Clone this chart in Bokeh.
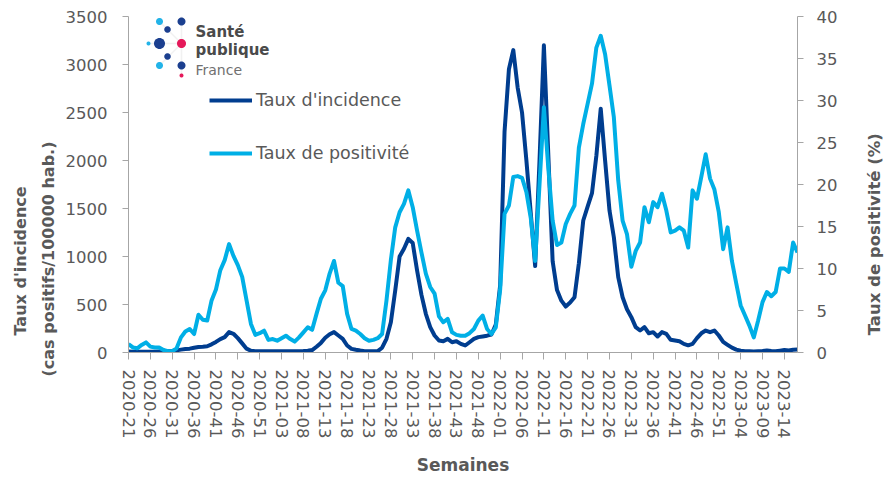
import numpy as np
from bokeh.plotting import figure
from bokeh.models import (Range1d, LinearAxis, SingleIntervalTicker, FixedTicker,
                          Legend, LegendItem, Label, PolyAnnotation, ColumnDataSource, Title)
from bokeh.embed import file_html
from bokeh.resources import INLINE

# ---------------- data ----------------
# ISO weeks 2020-21 .. 2023-17 (2020 has 53 weeks)
year_week_spans = [(2020, 21, 53), (2021, 1, 52), (2022, 1, 52), (2023, 1, 17)]
weeks = [f"{y}-{w:02d}" for (y, a, b) in year_week_spans for w in range(a, b + 1)]

# Taux d'incidence (cas positifs / 100000 hab.)
incidence = [
    10, 9, 8, 8, 8, 8, 9, 10, 11, 13,
    16, 22, 30, 36, 40, 50, 58, 60, 65, 85,
    110, 140, 160, 212, 195, 150, 95, 40, 18, 12,
    12, 12, 12, 13, 13, 12, 12, 12, 13, 14,
    15, 18, 25, 60, 100, 153, 190, 212, 177, 142,
    73, 38, 28, 20, 14, 12, 12, 14, 50, 142,
    316, 646, 1000, 1080, 1184, 1140, 854, 600, 403, 264,
    177, 125, 118, 142, 107, 118, 90, 73, 107, 142,
    160, 167, 175, 188, 290, 700, 2300, 2950, 3150, 2760,
    2500, 2000, 1450, 900, 2000, 3200, 2070, 950, 650, 540,
    479, 520, 576, 930, 1375, 1520, 1660, 2050, 2540, 2000,
    1480, 1200, 785, 576, 450, 368, 264, 229, 264, 201,
    212, 167, 212, 194, 132, 125, 118, 90, 75, 90,
    150, 200, 229, 212, 229, 177, 111, 80, 50, 30,
    18, 14, 12, 10, 12, 15, 20, 15, 12, 18,
    25, 20, 28, 30,
]

# Taux de positivité (%)
positivity = [
    1.0, 0.6, 0.5, 0.9, 1.2, 0.7, 0.6, 0.6, 0.3, 0.15,
    0.15, 0.5, 1.8, 2.5, 2.8, 2.2, 4.5, 3.9, 3.8, 6.2,
    7.5, 9.8, 11.0, 12.9, 11.5, 10.4, 9.0, 6.2, 3.4, 2.1,
    2.3, 2.6, 1.5, 1.6, 1.4, 1.7, 2.0, 1.6, 1.3, 1.8,
    2.4, 3.0, 2.7, 4.6, 6.4, 7.4, 9.4, 10.9, 8.3, 7.9,
    4.6, 2.8, 2.6, 2.2, 1.7, 1.4, 1.5, 1.7, 2.2, 6.2,
    11.0, 14.9, 16.7, 17.7, 19.3, 17.3, 14.5, 11.9, 9.4, 7.8,
    7.0, 4.3, 3.6, 4.0, 2.4, 2.1, 2.0, 2.0, 2.3, 2.8,
    3.8, 4.4, 2.8, 2.2, 3.0, 7.5, 16.5, 17.5, 20.9, 21.0,
    20.8, 19.1, 16.0, 10.9, 20.0, 29.2, 22.0, 15.7, 12.8, 13.1,
    15.3, 16.5, 17.5, 24.4, 27.2, 29.6, 32.0, 36.3, 37.7, 35.5,
    31.8, 28.0, 20.5, 15.7, 14.1, 10.2, 12.1, 13.1, 17.3, 15.5,
    17.9, 17.3, 18.9, 16.9, 14.3, 14.5, 14.9, 14.5, 12.5, 19.3,
    18.3, 20.9, 23.6, 20.7, 19.4, 16.7, 12.3, 14.9, 10.9, 8.2,
    5.6, 4.4, 3.2, 1.8, 3.8, 6.0, 7.2, 6.7, 7.2, 10.0,
    10.0, 9.6, 13.1, 11.9,
]

tick_step = 5
tick_idx = list(range(0, len(weeks), tick_step))
tick_labels = [weeks[i] for i in tick_idx]

series_names = ["Taux d'incidence", "Taux de positivité"]
left_title = ["Taux d'incidence", "(cas positifs/100000 hab.)"]
right_title = "Taux de positivité (%)"
x_title = "Semaines"

# ---------------- style ----------------
DARK = "#003d8f"
LIGHT = "#00afe6"
GREY_TXT = "#595959"
AXIS_COL = "#a6a6a6"
FONT = "DejaVu Sans"
TICK_FS = "16.5px"

# frame position in the picture
FL, FB = 128, 352

p = figure(width=896, height=478, output_backend="svg", toolbar_location=None,
           x_range=Range1d(0, len(weeks) - 1), y_range=Range1d(0, 3500),
           min_border_left=128, min_border_right=93, min_border_top=16,
           min_border_bottom=126, outline_line_color=None,
           background_fill_color="white", border_fill_color="white")
p.extra_y_ranges = {"pos": Range1d(0, 40)}
p.xgrid.visible = False
p.ygrid.visible = False


def style_axis(ax):
    ax.axis_line_color = AXIS_COL
    ax.major_tick_line_color = AXIS_COL
    ax.minor_tick_line_color = None
    ax.major_tick_in = 0
    ax.major_tick_out = 6
    ax.major_label_text_font = FONT
    ax.major_label_text_font_size = TICK_FS
    ax.major_label_text_color = GREY_TXT


xa = p.xaxis[0]
style_axis(xa)
xa.ticker = FixedTicker(ticks=tick_idx)
xa.major_label_overrides = {i: lab for i, lab in zip(tick_idx, tick_labels)}
xa.major_label_orientation = "vertical"
xa.major_tick_out = 7
xa.major_label_standoff = 10
xa.axis_label = x_title
xa.axis_label_text_font = FONT
xa.axis_label_text_font_style = "bold"
xa.axis_label_text_font_size = "17px"
xa.axis_label_text_color = GREY_TXT
xa.axis_label_standoff = 14

ya = p.yaxis[0]
style_axis(ya)
ya.ticker = SingleIntervalTicker(interval=500)
ya.major_label_standoff = 15

ra = LinearAxis(y_range_name="pos", ticker=SingleIntervalTicker(interval=5))
style_axis(ra)
ra.major_label_standoff = 13
# right title reads bottom-to-top, starting near the bottom of the axis
ra.axis_label = "\u00a0" * 3 + right_title
ra.axis_label_orientation = np.pi / 2
try:
    ra.axis_label_align = "start"
except AttributeError:
    pass
ra.axis_label_text_font = FONT
ra.axis_label_text_font_style = "bold"
ra.axis_label_text_font_size = "16.5px"
ra.axis_label_text_color = GREY_TXT
ra.axis_label_standoff = 34
p.add_layout(ra, "right")

src = ColumnDataSource(dict(x=list(range(len(weeks))), inc=incidence, pos=positivity))
r1 = p.line("x", "inc", source=src, line_color=DARK, line_width=4, line_join="round")
r2 = p.line("x", "pos", source=src, y_range_name="pos", line_color=LIGHT,
            line_width=4, line_join="round")

legend = Legend(items=[LegendItem(label=series_names[0], renderers=[r1]),
                       LegendItem(label=series_names[1], renderers=[r2])],
                location=(81, 189), orientation="vertical",
                glyph_width=43, glyph_height=20, label_height=20, spacing=33,
                padding=0, margin=0, label_standoff=4,
                border_line_color=None, background_fill_alpha=0,
                label_text_font=FONT, label_text_font_size="17.5px",
                label_text_color=GREY_TXT)
p.add_layout(legend)

# left axis titles as side-panel titles, shifted down along the axis
title_kw = dict(text_font=FONT, text_font_style="bold", text_font_size="16px",
                text_color=GREY_TXT, align="left")
p.add_layout(Title(text=left_title[1], standoff=9, offset=-24, **title_kw), "left")
p.add_layout(Title(text=left_title[0], standoff=5, offset=17, **title_kw), "left")


def scr_label(text, x_img, y_img, **kw):
    return Label(x=x_img - FL, y=FB - y_img, x_units="screen", y_units="screen",
                 text=text, **kw)


# ---------------- logo (decoration) ----------------
LOGO_DARK = "#1b3f8f"
LOGO_LIGHT = "#22b3e8"
LOGO_PINK = "#e5195a"
cx, cy = 181, 43
spokes = [((181, 10), (181, 75)), ((cx, cy), (159, 21)), ((cx, cy), (159, 65)),
          ((cx, cy), (148, 43))]
for (x1, y1), (x2, y2) in spokes:
    p.add_layout(PolyAnnotation(xs=[x1 - FL, x2 - FL], ys=[FB - y1, FB - y2],
                                xs_units="screen", ys_units="screen",
                                fill_alpha=0, line_color="#cfcfcf", line_width=1.5))

dots = [(181, 10, 4, LOGO_PINK), (159, 21, 7, LOGO_LIGHT), (181, 21, 8, LOGO_DARK),
        (167, 29, 6.5, LOGO_DARK), (148, 43, 4, LOGO_LIGHT), (159, 43, 11, LOGO_DARK),
        (181, 43, 9, LOGO_PINK), (167, 56, 6.5, LOGO_DARK), (159, 65, 7, LOGO_LIGHT),
        (181, 65, 8, LOGO_DARK), (181, 75, 4, LOGO_PINK)]
t = np.linspace(0, 2 * np.pi, 32, endpoint=False)
for (x0, y0, d, col) in dots:
    xs = list(x0 + d / 2 * np.cos(t) - FL)
    ys = list(FB - (y0 + d / 2 * np.sin(t)))
    p.add_layout(PolyAnnotation(xs=xs, ys=ys, xs_units="screen", ys_units="screen",
                                fill_color=col, fill_alpha=1, line_color=None))

p.add_layout(scr_label("Santé", 195, 31.5, text_font=FONT, text_font_style="bold",
                       text_font_size="15px", text_color="#4a4a4a",
                       text_baseline="alphabetic"))
p.add_layout(scr_label("publique", 195, 49.5, text_font=FONT, text_font_style="bold",
                       text_font_size="15px", text_color="#4a4a4a",
                       text_baseline="alphabetic"))
p.add_layout(scr_label("France", 195, 69, text_font=FONT, text_font_size="14px",
                       text_color="#707070", text_baseline="alphabetic"))

open("out.html", "w").write(file_html(p, INLINE))
